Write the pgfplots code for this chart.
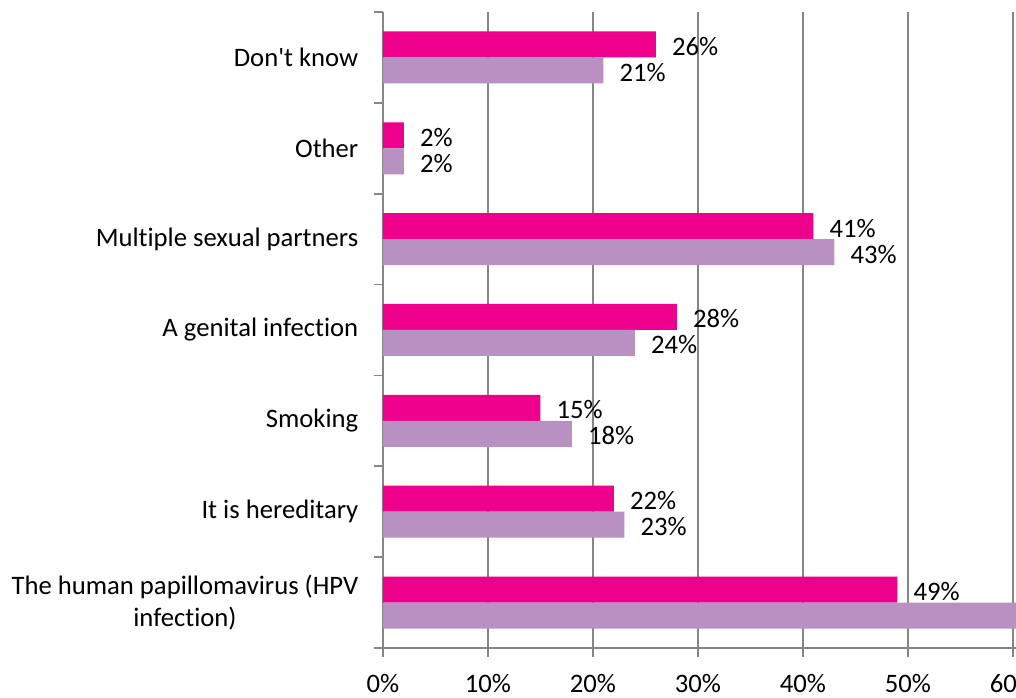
\documentclass[border=0pt]{standalone}
\usepackage{pgfplots}
\pgfplotsset{compat=1.18}
\usepackage{fontspec}
\setmainfont{Carlito}[Ligatures={TeXOff,NoCommon}]
\definecolor{mag}{HTML}{EC008C}
\definecolor{lil}{HTML}{B990C2}
\definecolor{gr}{HTML}{868686}
\newcommand{\cf}{\fontsize{20}{24}\selectfont}
\begin{document}
\begin{tikzpicture}
\path[use as bounding box, clip] (-287.25pt,-37.5pt) rectangle (474.75pt,486pt);
\begin{axis}[
  anchor=south west, at={(0,0)},
  scale only axis, width=474.75pt, height=477pt,
  xbar, bar width=19.5pt,
  xmin=0, xmax=60.29, ymin=-0.5, ymax=6.5,
  axis x line*=bottom, axis y line*=left,
  axis line style={gr, line width=1.2pt},
  xmajorgrids, major grid style={gr, line width=1.2pt},
  tick style={gr, line width=1.2pt},
  tick align=outside,
  major tick length=7pt,
  xtick={0,10,20,30,40,50,60},
  xticklabels={0\%,10\%,20\%,30\%,40\%,50\%,60\%},
  xticklabel style={font=\cf, text=black, yshift=-9pt},
  ytick={-0.5,0.5,1.5,2.5,3.5,4.5,5.5,6.5},
  yticklabels={},
  extra y ticks={0,1,2,3,4,5,6},
  extra y tick labels={{The human papillomavirus (HPV\\infection)},It is hereditary,Smoking,A genital infection,Multiple sexual partners,Other,Don't know},
  extra y tick style={major tick length=0pt, yticklabel style={align=center, font=\cf, text=black, xshift=-15pt}},
  point meta=x,
  nodes near coords={\pgfmathprintnumber{\pgfplotspointmeta}\%},
  every node near coord/.append style={anchor=west, xshift=8.5pt, yshift=-1.5pt, font=\cf, text=black, /pgf/number format/assume math mode=true},
]
\addplot[fill=mag, draw=none, bar shift=9.75pt] coordinates {(49,0) (22,1) (15,2) (28,3) (41,4) (2,5) (26,6)};
\addplot[fill=lil, draw=none, bar shift=-9.75pt] coordinates {(66,0) (23,1) (18,2) (24,3) (43,4) (2,5) (21,6)};
\end{axis}
\end{tikzpicture}
\end{document}
